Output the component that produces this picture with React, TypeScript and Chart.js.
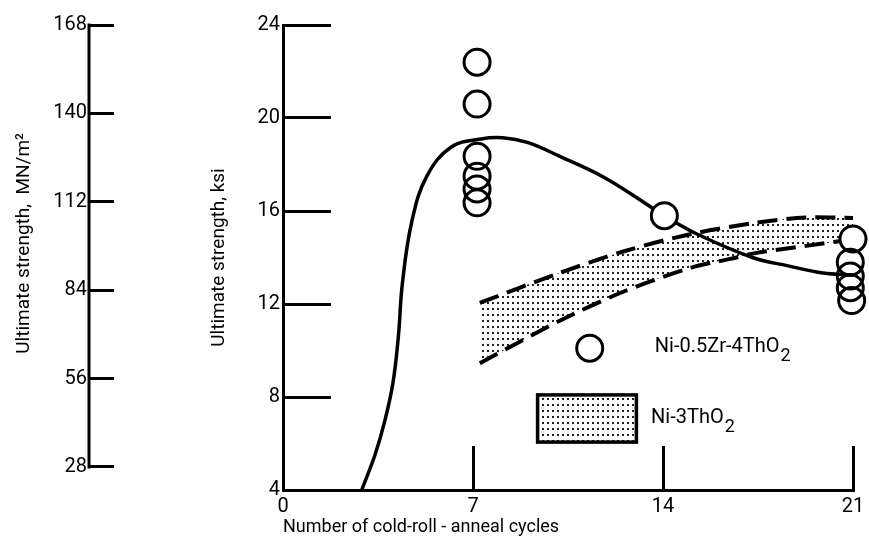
import React, { useEffect, useRef } from 'react';
import { Chart, registerables } from 'chart.js';

Chart.register(...registerables);

const FONT = "Roboto, 'Liberation Sans', sans-serif";

// Tick labels
const cycleTicks = [0, 7, 14, 21];
const ksiTicks = [4, 8, 12, 16, 20, 24];
const mnTicks = [28, 56, 84, 112, 140, 168];

// Ni-0.5Zr-4ThO2 measured points (cycles, ksi)
const zrCycles = [7.15, 7.15, 7.15, 7.15, 7.15, 7.15, 14.05, 21.0, 20.9, 20.9, 20.9, 20.95];
const zrKsi = [22.4, 20.6, 18.35, 17.5, 16.95, 16.35, 15.8, 14.8, 13.8, 13.2, 12.7, 12.15];

// Ni-0.5Zr-4ThO2 faired curve
const fitCycles = [2.9, 3.4, 3.75, 4.05, 4.25, 4.4, 4.75, 5.3, 6.2, 7.3, 8.1, 9.0, 10.2, 11.9, 14.05, 15.27, 17.3, 18.65, 19.9, 21];
const fitKsi = [4.0, 5.55, 6.97, 8.6, 10.6, 12.9, 15.57, 17.5, 18.75, 19.1, 19.15, 18.95, 18.35, 17.4, 15.8, 15.0, 14.0, 13.63, 13.33, 13.25];

// Ni-3ThO2 scatter band
const bandUpperCycles = [7.25, 10.18, 12.6, 15.0, 17.45, 19.27, 21];
const bandUpperKsi = [12.05, 13.33, 14.28, 15.0, 15.5, 15.72, 15.7];
const bandLowerCycles = [7.25, 10.18, 12.6, 15.0, 16.47, 17.45, 19.27, 20.5, 21];
const bandLowerKsi = [9.45, 11.27, 12.56, 13.55, 13.94, 14.2, 14.5, 14.7, 14.75];

const zrLabel = 'Ni-0.5Zr-4ThO';
const niLabel = 'Ni-3ThO';
const subTwo = '2';

function makeDots(): CanvasPattern | string {
  const c = document.createElement('canvas');
  c.width = 5;
  c.height = 6;
  const g = c.getContext('2d');
  if (!g) return '#ddd';
  g.fillStyle = '#fff';
  g.fillRect(0, 0, 5, 6);
  g.fillStyle = '#222';
  g.fillRect(2, 2, 2, 2);
  return g.createPattern(c, 'repeat') || '#ddd';
}

function drawChem(ctx: CanvasRenderingContext2D, main: string, sub: string, x: number, y: number, size: number) {
  ctx.font = `${size}px ${FONT}`;
  ctx.textAlign = 'left';
  ctx.textBaseline = 'alphabetic';
  ctx.fillStyle = '#000';
  ctx.fillText(main, x, y);
  const w = ctx.measureText(main).width;
  ctx.font = `${Math.round(size * 0.9)}px ${FONT}`;
  ctx.fillText(sub, x + w + 1, y + size * 0.45);
}

const noPad = (s: any) => {
  s.paddingTop = 0;
  s.paddingBottom = 0;
  s.paddingLeft = 0;
  s.paddingRight = 0;
};

export default function App() {
  const ref = useRef<HTMLCanvasElement>(null);

  useEffect(() => {
    const canvas = ref.current;
    if (!canvas) return;
    const dots = makeDots();

    const overlay = {
      id: 'overlay',
      afterDraw(chart: any) {
        const { ctx } = chart;
        const x = chart.scales.x;
        const y = chart.scales.ksi;
        const mn = chart.scales.mn;
        ctx.save();
        ctx.strokeStyle = '#000';
        ctx.lineWidth = 3;
        ctx.beginPath();
        ctx.moveTo(mn.right, mn.getPixelForValue(mnTicks[0]) + 1.5);
        ctx.lineTo(mn.right, mn.getPixelForValue(mnTicks[mnTicks.length - 1]) - 1.5);
        ctx.stroke();

        ctx.beginPath();
        ctx.lineWidth = 3;
        ctx.arc(x.getPixelForValue(11.3), y.getPixelForValue(10.1), 13, 0, Math.PI * 2);
        ctx.stroke();
        drawChem(ctx, zrLabel, subTwo, x.getPixelForValue(13.7), y.getPixelForValue(9.94), 20);

        const rx0 = x.getPixelForValue(9.38);
        const rx1 = x.getPixelForValue(13.02);
        const ry0 = y.getPixelForValue(8.09);
        const ry1 = y.getPixelForValue(6.06);
        ctx.fillStyle = dots as any;
        ctx.fillRect(rx0, ry0, rx1 - rx0, ry1 - ry0);
        ctx.lineWidth = 3.5;
        ctx.strokeRect(rx0, ry0, rx1 - rx0, ry1 - ry0);
        drawChem(ctx, niLabel, subTwo, x.getPixelForValue(13.56), y.getPixelForValue(6.88), 20);
        ctx.restore();
      },
    };

    const pts = (xs: number[], ys: number[]) => xs.map((v, i) => ({ x: v, y: ys[i] }));
    const tickFont = { family: FONT, size: 20 };
    const titleFont = { family: FONT, size: 19 };
    const xTitleFont = { family: FONT, size: 18 };

    const chart = new Chart(canvas, {
      type: 'line',
      data: {
        datasets: [
          {
            label: 'Ni-0.5Zr-4ThO2',
            data: pts(zrCycles, zrKsi),
            xAxisID: 'x',
            yAxisID: 'ksi',
            showLine: false,
            pointStyle: 'circle',
            pointRadius: 13,
            pointBorderWidth: 3,
            pointBorderColor: '#000',
            pointBackgroundColor: zrCycles.map((_, i) => (i === 6 || i === 7 ? '#fff' : 'rgba(0,0,0,0)')),
            clip: false,
            order: 0,
          } as any,
          {
            label: 'fit',
            data: pts(fitCycles, fitKsi),
            xAxisID: 'x',
            yAxisID: 'ksi',
            borderColor: '#000',
            borderWidth: 3.5,
            pointRadius: 0,
            tension: 0.4,
            fill: false,
            order: 1,
          },
          {
            label: 'band upper',
            data: pts(bandUpperCycles, bandUpperKsi),
            xAxisID: 'x',
            yAxisID: 'ksi',
            borderColor: '#000',
            borderWidth: 4,
            borderDash: [20, 9],
            pointRadius: 0,
            tension: 0.3,
            fill: false,
            order: 2,
          },
          {
            label: 'Ni-3ThO2',
            data: pts(bandLowerCycles, bandLowerKsi),
            xAxisID: 'x',
            yAxisID: 'ksi',
            borderColor: '#000',
            borderWidth: 4,
            borderDash: [20, 9],
            pointRadius: 0,
            tension: 0.3,
            fill: '-1',
            backgroundColor: dots as any,
            order: 3,
          },
        ],
      },
      options: {
        responsive: false,
        animation: false,
        events: [],
        layout: { padding: { top: 25, right: 12, bottom: 0, left: 0 } },
        plugins: {
          legend: { display: false },
          tooltip: { enabled: false },
          title: { display: false },
        },
        scales: {
          x: {
            type: 'linear',
            position: 'bottom',
            min: 0,
            max: 21,
            afterBuildTicks: (s: any) => {
              s.ticks = cycleTicks.map((v) => ({ value: v }));
            },
            afterFit: (s: any) => {
              s.height = 53;
              noPad(s);
            },
            ticks: { font: tickFont, color: '#000', padding: 49, maxRotation: 0, autoSkip: false },
            grid: { display: true, color: '#000', lineWidth: 3, drawOnChartArea: false, drawTicks: true, tickLength: -44 },
            border: { display: true, color: '#000', width: 3 },
            title: {
              display: true,
              text: 'Number of cold-roll - anneal cycles',
              align: 'start',
              color: '#000',
              font: xTitleFont,
              padding: { top: 0, bottom: 5 },
            },
          },
          ksi: {
            type: 'linear',
            position: 'left',
            weight: 0,
            min: 4,
            max: 24,
            afterBuildTicks: (s: any) => {
              s.ticks = ksiTicks.map((v) => ({ value: v }));
            },
            afterFit: (s: any) => {
              s.width = 194;
              noPad(s);
            },
            ticks: { font: tickFont, color: '#000', padding: 51, autoSkip: false },
            grid: { display: true, color: '#000', lineWidth: 3, drawOnChartArea: false, drawTicks: true, tickLength: -48 },
            border: { display: true, color: '#000', width: 3 },
            title: {
              display: true,
              text: 'Ultimate strength, ksi',
              color: '#000',
              font: titleFont,
              padding: { top: 119, bottom: 0 },
            },
          },
          mn: {
            type: 'linear',
            position: 'left',
            weight: 10,
            min: 20.7,
            max: 168,
            afterBuildTicks: (s: any) => {
              s.ticks = mnTicks.map((v) => ({ value: v }));
            },
            afterFit: (s: any) => {
              s.width = 89;
              noPad(s);
            },
            ticks: { font: tickFont, color: '#000', padding: 27, autoSkip: false },
            grid: { display: true, color: '#000', lineWidth: 3, drawOnChartArea: false, drawTicks: true, tickLength: -25 },
            border: { display: false },
            title: {
              display: true,
              text: '      Ultimate strength,  MN/m²',
              color: '#000',
              font: titleFont,
              padding: { top: 13, bottom: 0 },
            },
          },
        },
      } as any,
      plugins: [overlay],
    });

    return () => chart.destroy();
  }, []);

  return (
    <div style={{ position: 'fixed', left: 0, top: 0, width: 869, height: 543, background: '#fff' }}>
      <canvas ref={ref} width={869} height={543} style={{ display: 'block' }} />
    </div>
  );
}
